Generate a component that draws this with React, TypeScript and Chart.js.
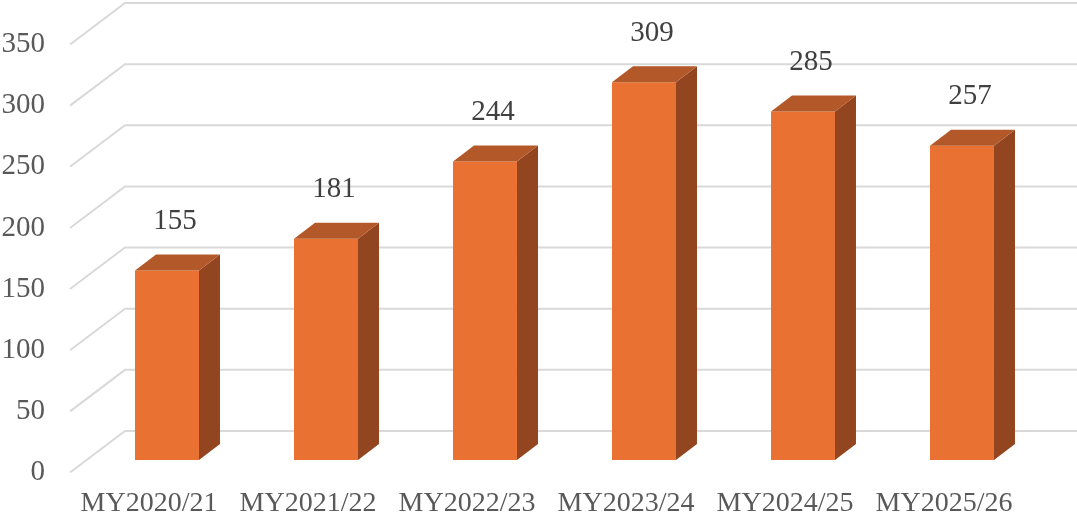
import React, { useEffect, useRef } from "react";
import { Chart, registerables } from "chart.js";

Chart.register(...registerables);

const categories = ["MY2020/21", "MY2021/22", "MY2022/23", "MY2023/24", "MY2024/25", "MY2025/26"];
const values = [155, 181, 244, 309, 285, 257];
const yTicks = [0, 50, 100, 150, 200, 250, 300, 350];

const FRONT = "#E97132";
const TOP = "#B35829";
const SIDE = "#93451F";
const GRID = "#D9D9D9";
const FONT = "'Liberation Serif', 'Times New Roman', serif";

const depthBar = { dx: 21, dy: -16 };

const threeD = {
  id: "threeD",
  beforeDatasetsDraw(chart: any) {
    const { ctx } = chart;
    const ys = chart.scales.y;
    ctx.save();
    ctx.strokeStyle = GRID;
    ctx.lineWidth = 2;
    yTicks.forEach((v) => {
      const p = ys.getPixelForValue(v);
      ctx.beginPath();
      ctx.moveTo(70, p + 12.5);
      ctx.lineTo(125, p - 29);
      ctx.lineTo(chart.width, p - 29);
      ctx.stroke();
    });
    ctx.restore();
  },
  afterDatasetsDraw(chart: any) {
    const { ctx } = chart;
    const meta = chart.getDatasetMeta(0);
    ctx.save();
    meta.data.forEach((bar: any, i: number) => {
      const { x, y, base, width } = bar.getProps(["x", "y", "base", "width"], true);
      const l = x - width / 2;
      const r = x + width / 2;
      const { dx, dy } = depthBar;
      ctx.fillStyle = SIDE;
      ctx.beginPath();
      ctx.moveTo(r, y);
      ctx.lineTo(r + dx, y + dy);
      ctx.lineTo(r + dx, base + dy);
      ctx.lineTo(r, base);
      ctx.closePath();
      ctx.fill();
      ctx.fillStyle = TOP;
      ctx.beginPath();
      ctx.moveTo(l, y);
      ctx.lineTo(l + dx, y + dy);
      ctx.lineTo(r + dx, y + dy);
      ctx.lineTo(r, y);
      ctx.closePath();
      ctx.fill();
      ctx.fillStyle = "#404040";
      ctx.font = `29px ${FONT}`;
      ctx.textAlign = "center";
      ctx.textBaseline = "middle";
      ctx.fillText(String(values[i]), x + 8, y + dy - 33);
    });
    ctx.restore();
  },
};

export default function App() {
  const ref = useRef<HTMLCanvasElement>(null);
  useEffect(() => {
    document.body.style.margin = "0";
    const chart = new Chart(ref.current as HTMLCanvasElement, {
      type: "bar",
      data: {
        labels: categories,
        datasets: [
          {
            data: values,
            backgroundColor: FRONT,
            borderWidth: 0,
            barPercentage: 0.8,
            categoryPercentage: 0.503,
          },
        ],
      },
      options: {
        animation: false,
        responsive: false,
        devicePixelRatio: 1,
        layout: { padding: { top: 32, right: 35.5, left: 0, bottom: 0 } },
        plugins: { legend: { display: false }, tooltip: { enabled: false } },
        scales: {
          x: {
            grid: { display: false, drawTicks: false },
            border: { display: false },
            ticks: {
              font: { family: FONT, size: 28 },
              color: "#595959",
              padding: 27,
              labelOffset: -18,
              maxRotation: 0,
              autoSkip: false,
            },
            afterFit(s: any) {
              s.height = 59;
              s.paddingLeft = 0;
              s.paddingRight = 0;
            },
          },
          y: {
            min: 0,
            max: 350,
            grid: { display: false, drawTicks: false },
            border: { display: false },
            ticks: {
              stepSize: 50,
              font: { family: FONT, size: 29 },
              color: "#595959",
              padding: 42.5,
              labelOffset: 12.5,
            },
            afterFit(s: any) {
              s.width = 87.5;
              s.paddingTop = 0;
              s.paddingBottom = 0;
            },
          },
        },
      },
      plugins: [threeD],
    });
    return () => chart.destroy();
  }, []);
  return (
    <div style={{ position: "absolute", left: 0, top: 0, width: 1077, height: 519 }}>
      <canvas ref={ref} width={1077} height={519} style={{ width: 1077, height: 519 }} />
    </div>
  );
}
